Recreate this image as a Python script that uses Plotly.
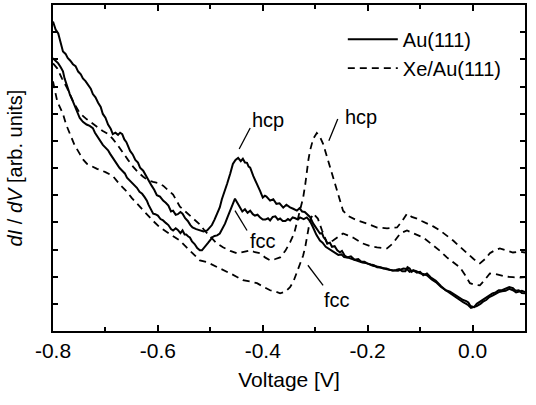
import plotly.graph_objects as go

# Au(111) – trace over hcp area (solid, upper peak)
au_hcp_v = [-0.800, -0.795, -0.790, -0.785, -0.781, -0.776, -0.772, -0.767, -0.762, -0.757, -0.752, -0.747,
            -0.743, -0.738, -0.733, -0.728, -0.724, -0.719, -0.714, -0.709, -0.705, -0.700, -0.695, -0.690,
            -0.686, -0.681, -0.676, -0.672, -0.668, -0.664, -0.660, -0.656, -0.653, -0.648, -0.643, -0.638,
            -0.634, -0.628, -0.621, -0.617, -0.612, -0.607, -0.602, -0.596, -0.590, -0.585, -0.580, -0.575,
            -0.571, -0.566, -0.562, -0.557, -0.553, -0.548, -0.543, -0.538, -0.534, -0.527, -0.520, -0.513,
            -0.506, -0.501, -0.497, -0.492, -0.487, -0.482, -0.478, -0.473, -0.468, -0.462, -0.457, -0.452,
            -0.447, -0.442, -0.438, -0.434, -0.430, -0.427, -0.424, -0.418, -0.411, -0.405, -0.400, -0.396,
            -0.393, -0.389, -0.386, -0.380, -0.374, -0.368, -0.361, -0.355, -0.348, -0.342, -0.335, -0.330,
            -0.325, -0.320, -0.316, -0.310, -0.304, -0.298, -0.291, -0.287, -0.284, -0.280, -0.277, -0.272,
            -0.268, -0.263, -0.258, -0.253, -0.249, -0.244, -0.239, -0.232, -0.225, -0.218, -0.212, -0.206,
            -0.201, -0.194, -0.188, -0.182, -0.176, -0.170, -0.164, -0.158, -0.152, -0.146, -0.140, -0.134,
            -0.128, -0.124, -0.120, -0.116, -0.113, -0.106, -0.100, -0.094, -0.087, -0.080, -0.070, -0.060,
            -0.051, -0.043, -0.035, -0.027, -0.018, -0.012, -0.008, -0.004, 0.003, 0.008, 0.012, 0.018,
            0.026, 0.032, 0.038, 0.044, 0.050, 0.056, 0.063, 0.070, 0.077, 0.082, 0.088, 0.094, 0.100]
au_hcp_y = [11.39, 11.10, 10.95, 10.55, 10.29, 10.20, 10.05, 9.95, 9.82, 9.75, 9.55, 9.45,
            9.30, 9.20, 9.05, 8.92, 8.72, 8.60, 8.40, 8.25, 7.99, 7.85, 7.60, 7.45,
            7.25, 7.30, 7.22, 7.30, 7.25, 7.05, 6.95, 6.75, 6.63, 6.50, 6.30, 6.20,
            6.01, 5.90, 5.64, 5.55, 5.35, 5.20, 5.00, 4.95, 4.80, 4.72, 4.62, 4.40,
            4.43, 4.28, 4.30, 4.38, 4.32, 4.15, 4.05, 3.90, 3.81, 3.75, 3.70, 3.66,
            3.70, 3.80, 3.90, 4.10, 4.32, 4.55, 4.85, 5.10, 5.42, 5.80, 6.15, 6.30,
            6.37, 6.25, 6.34, 6.20, 6.19, 6.05, 6.01, 5.70, 5.42, 5.15, 4.91, 4.98,
            4.95, 4.85, 4.80, 4.85, 4.68, 4.70, 4.54, 4.65, 4.55, 4.50, 4.43, 4.52,
            4.40, 4.38, 4.32, 4.20, 3.96, 3.80, 3.59, 3.60, 3.45, 3.35, 3.22, 3.25,
            3.10, 3.12, 2.97, 2.90, 2.95, 2.78, 2.71, 2.75, 2.62, 2.65, 2.55, 2.55,
            2.49, 2.45, 2.42, 2.35, 2.34, 2.30, 2.30, 2.25, 2.23, 2.25, 2.28, 2.20,
            2.20, 2.35, 2.30, 2.18, 2.23, 2.15, 2.18, 2.05, 2.12, 1.98, 1.85, 1.65,
            1.50, 1.45, 1.35, 1.25, 1.14, 1.10, 1.05, 0.92, 0.88, 1.00, 1.05, 1.15,
            1.25, 1.30, 1.38, 1.42, 1.50, 1.50, 1.55, 1.62, 1.58, 1.48, 1.50, 1.40, 1.39]

# Au(111) – trace over fcc area (solid, lower peak)
au_fcc_v = [-0.800, -0.795, -0.790, -0.785, -0.781, -0.778, -0.775, -0.771, -0.768, -0.763, -0.758, -0.753,
            -0.749, -0.743, -0.736, -0.730, -0.724, -0.720, -0.717, -0.713, -0.710, -0.705, -0.700, -0.695,
            -0.691, -0.687, -0.684, -0.681, -0.678, -0.673, -0.668, -0.663, -0.659, -0.654, -0.650, -0.645,
            -0.640, -0.635, -0.630, -0.625, -0.621, -0.618, -0.615, -0.612, -0.609, -0.605, -0.600, -0.595,
            -0.590, -0.585, -0.580, -0.575, -0.571, -0.566, -0.562, -0.557, -0.553, -0.549, -0.546, -0.542,
            -0.539, -0.535, -0.530, -0.525, -0.520, -0.516, -0.512, -0.508, -0.504, -0.501, -0.496, -0.492,
            -0.487, -0.482, -0.477, -0.472, -0.467, -0.462, -0.457, -0.453, -0.448, -0.443, -0.439, -0.434,
            -0.429, -0.424, -0.419, -0.415, -0.410, -0.405, -0.400, -0.395, -0.390, -0.386, -0.381, -0.376,
            -0.371, -0.367, -0.362, -0.357, -0.352, -0.348, -0.343, -0.338, -0.333, -0.329, -0.322, -0.316,
            -0.310, -0.304, -0.298, -0.291, -0.286, -0.280, -0.276, -0.272, -0.266, -0.260, -0.256, -0.250,
            -0.245, -0.239, -0.230, -0.220, -0.210, -0.201, -0.190, -0.176, -0.165, -0.152, -0.142, -0.132,
            -0.125, -0.120, -0.113, -0.107, -0.100, -0.094, -0.087, -0.078, -0.070, -0.060, -0.051, -0.043,
            -0.035, -0.027, -0.018, -0.012, -0.008, -0.003, 0.003, 0.008, 0.015, 0.020, 0.026, 0.032,
            0.038, 0.044, 0.050, 0.056, 0.063, 0.070, 0.077, 0.083, 0.088, 0.094, 0.100]
au_fcc_y = [10.04, 9.95, 9.85, 9.70, 9.56, 9.30, 9.10, 8.90, 8.72, 8.50, 8.25, 8.05,
            7.84, 7.70, 7.60, 7.55, 7.47, 7.30, 7.20, 7.10, 7.00, 6.85, 6.75, 6.65,
            6.52, 6.40, 6.30, 6.22, 6.15, 6.00, 5.90, 5.80, 5.64, 5.55, 5.45, 5.38,
            5.27, 5.12, 5.05, 4.92, 4.80, 4.65, 4.55, 4.45, 4.32, 4.30, 4.25, 4.12,
            4.07, 3.98, 3.90, 3.75, 3.70, 3.78, 3.72, 3.60, 3.70, 3.55, 3.55, 3.48,
            3.44, 3.30, 3.20, 3.05, 2.97, 2.97, 3.05, 3.15, 3.25, 3.33, 3.45, 3.50,
            3.52, 3.59, 3.75, 3.95, 4.20, 4.43, 4.70, 4.87, 4.70, 4.54, 4.40, 4.48,
            4.35, 4.43, 4.30, 4.25, 4.28, 4.18, 4.10, 4.10, 4.15, 4.07, 4.20, 4.22,
            4.10, 4.14, 4.05, 4.05, 4.12, 4.07, 4.18, 4.15, 4.10, 4.18, 4.12, 4.18,
            4.05, 3.81, 3.55, 3.33, 3.25, 3.10, 3.05, 2.97, 2.92, 2.85, 2.80, 2.82,
            2.72, 2.71, 2.65, 2.58, 2.52, 2.49, 2.40, 2.35, 2.28, 2.23, 2.22, 2.30,
            2.28, 2.18, 2.23, 2.20, 2.12, 2.10, 2.05, 1.90, 1.80, 1.62, 1.50, 1.38,
            1.28, 1.15, 1.06, 1.00, 0.95, 0.85, 0.88, 0.92, 1.00, 1.08, 1.14, 1.25,
            1.30, 1.38, 1.43, 1.46, 1.48, 1.55, 1.50, 1.42, 1.45, 1.48, 1.43]

# Xe/Au(111) – trace over hcp area (dashed, upper)
xe_hcp_v = [-0.800, -0.792, -0.783, -0.773, -0.762, -0.749, -0.736, -0.724, -0.714, -0.705, -0.695, -0.686,
            -0.677, -0.667, -0.657, -0.647, -0.638, -0.628, -0.619, -0.609, -0.600, -0.590, -0.581, -0.571,
            -0.558, -0.549, -0.539, -0.530, -0.520, -0.511, -0.501, -0.489, -0.476, -0.462, -0.449, -0.436,
            -0.424, -0.415, -0.405, -0.395, -0.386, -0.376, -0.367, -0.357, -0.348, -0.340, -0.335, -0.329,
            -0.323, -0.319, -0.316, -0.313, -0.310, -0.304, -0.297, -0.291, -0.285, -0.278, -0.272, -0.265,
            -0.258, -0.252, -0.247, -0.236, -0.220, -0.201, -0.182, -0.163, -0.144, -0.134, -0.125, -0.116,
            -0.106, -0.097, -0.087, -0.075, -0.062, -0.049, -0.037, -0.024, -0.011, 0.002, 0.014, 0.024,
            0.033, 0.043, 0.052, 0.065, 0.077, 0.088, 0.100]
xe_hcp_y = [9.85, 9.67, 9.30, 8.94, 8.46, 8.02, 7.80, 7.62, 7.50, 7.36, 7.25, 7.07,
            6.85, 6.56, 6.30, 6.04, 5.85, 5.68, 5.55, 5.49, 5.45, 5.35, 5.20, 5.02,
            4.58, 4.42, 4.25, 4.10, 3.92, 3.70, 3.48, 3.25, 3.08, 2.95, 2.86, 2.92,
            2.97, 2.90, 2.86, 2.70, 2.60, 2.65, 2.71, 2.95, 3.26, 3.60, 3.96, 4.40,
            4.91, 5.40, 5.90, 6.30, 6.63, 7.07, 7.29, 7.15, 6.89, 6.45, 6.01, 5.55,
            5.16, 4.75, 4.43, 4.22, 4.07, 3.95, 3.81, 3.78, 3.81, 4.05, 4.32, 4.20,
            4.14, 4.05, 3.96, 3.85, 3.70, 3.52, 3.33, 3.10, 2.86, 2.65, 2.49, 2.65,
            2.86, 2.98, 3.04, 2.95, 2.89, 2.92, 2.89]

# Xe/Au(111) – trace over fcc area (dashed, lower)
xe_fcc_v = [-0.800, -0.796, -0.792, -0.786, -0.781, -0.775, -0.768, -0.759, -0.749, -0.742, -0.735, -0.726,
            -0.716, -0.700, -0.686, -0.673, -0.659, -0.650, -0.640, -0.630, -0.621, -0.609, -0.596, -0.587,
            -0.577, -0.568, -0.558, -0.549, -0.539, -0.530, -0.520, -0.506, -0.497, -0.487, -0.475, -0.462,
            -0.450, -0.438, -0.424, -0.411, -0.398, -0.386, -0.376, -0.367, -0.357, -0.348, -0.341, -0.335,
            -0.329, -0.323, -0.319, -0.316, -0.313, -0.310, -0.304, -0.295, -0.287, -0.277, -0.266, -0.256,
            -0.247, -0.238, -0.228, -0.209, -0.195, -0.182, -0.163, -0.152, -0.145, -0.138, -0.125, -0.113,
            -0.094, -0.075, -0.062, -0.049, -0.036, -0.024, -0.014, -0.005, 0.005, 0.014, 0.024, 0.033,
            0.043, 0.052, 0.065, 0.077, 0.088, 0.100]
xe_fcc_y = [9.19, 8.80, 8.46, 8.20, 7.99, 7.60, 7.25, 6.85, 6.52, 6.30, 6.15, 6.05,
            5.97, 5.85, 5.71, 5.40, 5.13, 4.90, 4.69, 4.50, 4.32, 4.05, 3.81, 3.70,
            3.59, 3.45, 3.33, 3.15, 2.97, 2.80, 2.60, 2.53, 2.45, 2.34, 2.25, 2.12,
            2.00, 1.87, 1.82, 1.76, 1.62, 1.50, 1.45, 1.39, 1.45, 1.61, 1.85, 2.16,
            2.45, 2.78, 3.10, 3.44, 3.80, 4.07, 4.32, 4.14, 3.70, 3.22, 3.33, 3.45,
            3.59, 3.52, 3.44, 3.22, 3.12, 3.08, 3.04, 3.22, 3.40, 3.59, 3.70, 3.59,
            3.44, 3.15, 2.95, 2.71, 2.52, 2.34, 2.05, 1.76, 1.70, 1.68, 1.90, 2.12,
            2.10, 2.05, 2.00, 1.98, 1.96, 1.98]

x_ticks = [-0.8, -0.6, -0.4, -0.2, 0.0]
x_tick_labels = ["-0.8", "-0.6", "-0.4", "-0.2", "0.0"]

FONT = "Liberation Sans, Arial, Helvetica, sans-serif"
FS = 20
FS_AX = 21

fig = go.Figure()
fig.add_trace(go.Scatter(x=au_hcp_v, y=au_hcp_y, mode="lines", name="Au(111)",
                         line=dict(color="black", width=2), legendgroup="au"))
fig.add_trace(go.Scatter(x=au_fcc_v, y=au_fcc_y, mode="lines", name="Au(111)", showlegend=False,
                         line=dict(color="black", width=2), legendgroup="au"))
fig.add_trace(go.Scatter(x=xe_hcp_v, y=xe_hcp_y, mode="lines", name="Xe/Au(111)",
                         line=dict(color="black", width=1.8, dash="7px,5px"), legendgroup="xe"))
fig.add_trace(go.Scatter(x=xe_fcc_v, y=xe_fcc_y, mode="lines", name="Xe/Au(111)", showlegend=False,
                         line=dict(color="black", width=1.8, dash="7px,5px"), legendgroup="xe"))

# peak labels with leader lines (data coordinates)
labels = [
    ("hcp", -0.390, 7.77, (-0.424, 7.47, -0.445, 6.70)),
    ("hcp", -0.213, 7.88, (-0.257, 7.80, -0.274, 7.00)),
    ("fcc", -0.400, 3.33, (-0.430, 3.70, -0.453, 4.43)),
    ("fcc", -0.258, 1.14, (-0.285, 1.68, -0.314, 2.42)),
]
for txt, tx, ty, (x0, y0, x1, y1) in labels:
    fig.add_annotation(x=tx, y=ty, text=txt, showarrow=False,
                       font=dict(family=FONT, size=FS, color="black"))
    fig.add_shape(type="line", x0=x0, y0=y0, x1=x1, y1=y1,
                  line=dict(color="black", width=1.3))

fig.update_layout(
    width=536, height=405,
    margin=dict(l=53, r=11, t=3, b=74),
    paper_bgcolor="white", plot_bgcolor="white",
    font=dict(family=FONT, size=FS, color="black"),
    showlegend=True,
    legend=dict(x=0.614, y=0.955, xanchor="left", yanchor="top",
                bgcolor="rgba(0,0,0,0)", font=dict(family=FONT, size=FS),
                tracegroupgap=0, itemwidth=50),
)
fig.update_xaxes(
    range=[-0.8, 0.1], tickmode="array", tickvals=x_ticks, ticktext=x_tick_labels,
    ticks="inside", ticklen=6, tickwidth=1.5, tickcolor="black",
    showline=True, linewidth=2, linecolor="black", mirror="ticks",
    showgrid=False, zeroline=False,
    minor=dict(dtick=0.1, tick0=-0.8, ticks="inside", ticklen=4, tickwidth=1.5, tickcolor="black",
               showgrid=False),
    title=dict(text="Voltage [V]", font=dict(family=FONT, size=FS_AX), standoff=11),
    tickfont=dict(family=FONT, size=FS_AX),
)
fig.update_yaxes(
    range=[0, 12], dtick=1, tick0=0, showticklabels=False,
    ticks="inside", ticklen=5, tickwidth=1.5, tickcolor="black",
    showline=True, linewidth=2, linecolor="black", mirror="ticks",
    showgrid=False, zeroline=False,
    title=dict(text="<i>dI</i> / <i>dV</i> [arb. units]", font=dict(family=FONT, size=FS), standoff=23),
)

fig.write_html("out.html")
